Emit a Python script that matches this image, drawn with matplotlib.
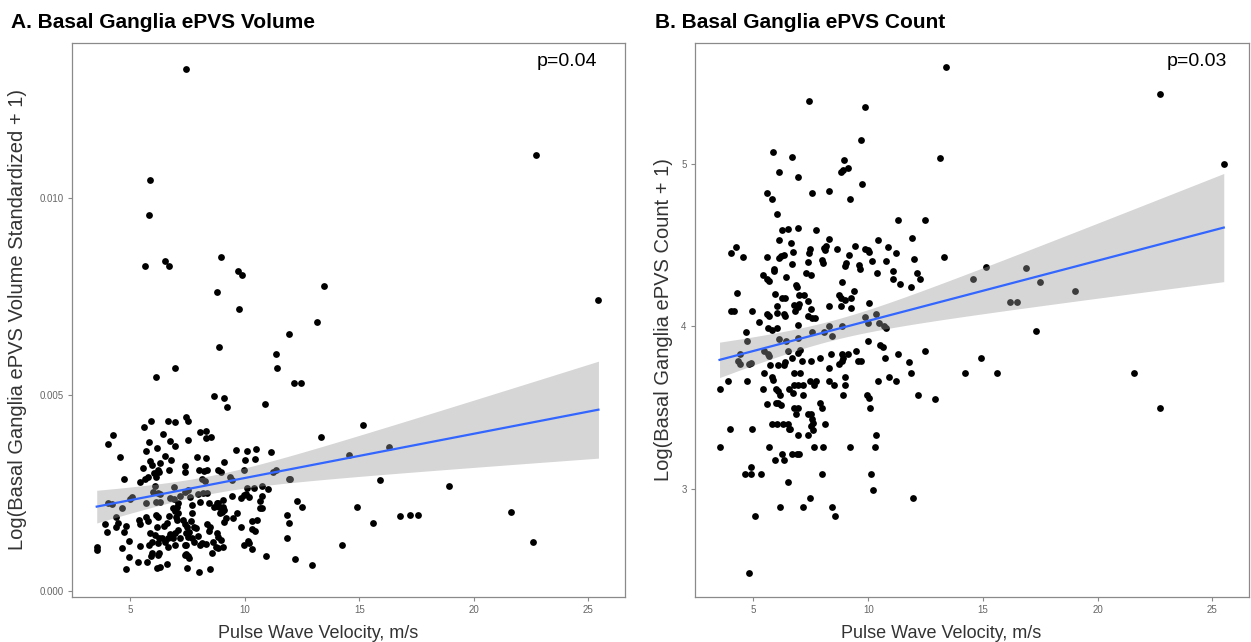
import matplotlib
matplotlib.use('Agg')
import matplotlib.pyplot as plt
import numpy as np

plt.rcParams['font.family'] = ['Liberation Sans', 'DejaVu Sans']

# pulse wave velocity vs basal ganglia ePVS volume (log, standardized)
pwv_vol = [7.42, 5.85, 5.80, 5.63, 6.51, 6.67, 8.97, 9.71, 9.86, 8.78, 13.45, 9.73, 13.14, 11.91, 8.87,
           11.35, 11.40, 6.96, 6.13, 12.14, 12.43, 22.7, 25.44,
           14.55, 15.15, 16.3, 14.9, 14.25, 15.6, 15.9, 16.77, 17.2, 17.55, 18.9, 21.6, 22.6,
           8.65, 9.10, 9.20, 10.90, 13.32, 4.26, 4.04, 4.55, 5.60, 5.90, 6.63, 6.95, 7.43, 7.53, 6.41,
           5.80, 6.73, 6.96, 7.52, 8.05, 8.29, 8.30, 8.50, 6.16, 5.68, 6.51, 6.76, 5.86, 5.95, 6.30,
           5.54, 6.22, 6.27, 6.69, 5.65, 5.76, 6.05, 6.13, 5.44, 7.37, 7.39, 7.91, 8.29, 7.98, 8.23,
           8.34, 8.14, 8.24, 8.81, 8.94, 9.09, 9.33, 9.42, 9.61, 10.02, 9.96, 10.47, 10.10, 10.45,
           11.12, 11.21, 11.34, 11.92, 11.99, 4.70, 5.07, 4.99, 4.04, 4.20, 4.62, 5.70, 6.00, 6.19,
           6.09, 6.30, 6.30, 6.12, 6.73, 6.92, 6.92, 7.17, 7.39, 7.52, 7.59, 7.02, 7.09, 6.88, 6.96,
           7.08, 6.98, 7.04, 7.69, 7.69, 7.97, 8.05, 8.45, 8.18, 8.33, 8.77, 8.84, 9.03, 8.87, 9.04,
           8.65, 8.93, 9.01, 9.44, 9.83, 9.94, 10.03, 10.16, 10.10, 10.41, 10.73, 11.03, 10.73, 10.66,
           10.76, 10.64, 9.67, 9.49, 9.16, 9.10, 11.82, 11.93, 11.86, 12.27, 12.49, 12.18, 12.94,
           3.88, 4.00, 3.53, 3.53, 4.36, 4.45, 4.35, 4.80, 4.74, 4.94, 4.62, 4.93, 4.80, 5.35, 5.74,
           5.41, 5.38, 5.42, 5.70, 5.77, 5.86, 6.06, 5.82, 5.95, 5.89, 5.95, 6.11, 6.21, 6.15, 6.27,
           6.37, 6.21, 6.27, 6.21, 6.18, 6.30, 6.59, 6.50, 6.66, 6.66, 6.75, 6.48, 6.60, 6.70, 6.85,
           6.93, 6.93, 7.07, 7.18, 7.37, 7.43, 7.31, 7.37, 7.49, 7.41, 7.50, 7.56, 7.63, 7.78, 7.88,
           7.43, 7.52, 7.56, 7.39, 7.49, 7.98, 8.46, 7.70, 7.78, 7.97, 8.05, 8.32, 8.11, 8.42, 8.36,
           8.46, 8.58, 8.59, 8.77, 8.84, 8.96, 8.74, 8.82, 9.06, 9.07, 9.84, 10.32, 10.45, 10.29,
           10.51, 10.12, 10.16, 9.96, 10.31, 10.93]
vol = [0.01329, 0.01047, 0.00956, 0.00828, 0.00839, 0.00827, 0.00850, 0.00815, 0.00804, 0.00762,
       0.00777, 0.00719, 0.00685, 0.00655, 0.00622, 0.00603, 0.00568, 0.00568, 0.00544, 0.00530,
       0.00530, 0.01110, 0.00740,
       0.00348, 0.00423, 0.00367, 0.00215, 0.00119, 0.00174, 0.00283, 0.00192, 0.00194, 0.00194,
       0.00268, 0.00202, 0.00126,
       0.00498, 0.00492, 0.00469, 0.00476, 0.00392, 0.00397, 0.00375, 0.00343, 0.00417, 0.00434,
       0.00434, 0.00431, 0.00443, 0.00433, 0.00400, 0.00381, 0.00383, 0.00370, 0.00386, 0.00406,
       0.00409, 0.00391, 0.00393, 0.00364, 0.00356, 0.00344, 0.00335, 0.00332, 0.00322, 0.00326,
       0.00313, 0.00310, 0.00303, 0.00310, 0.00287, 0.00292, 0.00300, 0.00290, 0.00278, 0.00320,
       0.00303, 0.00343, 0.00339, 0.00309, 0.00307, 0.00310, 0.00287, 0.00282, 0.00308, 0.00304,
       0.00328, 0.00290, 0.00284, 0.00359, 0.00333, 0.00310, 0.00361, 0.00358, 0.00336, 0.00355,
       0.00304, 0.00310, 0.00285, 0.00285, 0.00286, 0.00241, 0.00234, 0.00224, 0.00222, 0.00211,
       0.00224, 0.00252, 0.00250, 0.00268, 0.00249, 0.00228, 0.00228, 0.00237, 0.00235, 0.00265,
       0.00242, 0.00254, 0.00258, 0.00240, 0.00216, 0.00225, 0.00211, 0.00204, 0.00199, 0.00190,
       0.00182, 0.00221, 0.00199, 0.00247, 0.00227, 0.00226, 0.00250, 0.00250, 0.00224, 0.00226,
       0.00232, 0.00215, 0.00216, 0.00214, 0.00199, 0.00201, 0.00243, 0.00237, 0.00245, 0.00248,
       0.00239, 0.00264, 0.00262, 0.00268, 0.00261, 0.00243, 0.00231, 0.00212, 0.00211, 0.00200,
       0.00187, 0.00188, 0.00207, 0.00194, 0.00175, 0.00137, 0.00230, 0.00214, 0.00083, 0.00067,
       0.00172, 0.00150, 0.00112, 0.00105, 0.00190, 0.00173, 0.00165, 0.00167, 0.00152, 0.00129,
       0.00110, 0.00087, 0.00058, 0.00075, 0.00074, 0.00116, 0.00182, 0.00171, 0.00190, 0.00180,
       0.00148, 0.00143, 0.00118, 0.00126, 0.00090, 0.00097, 0.00194, 0.00190, 0.00165, 0.00137,
       0.00135, 0.00122, 0.00097, 0.00093, 0.00059, 0.00063, 0.00069, 0.00127, 0.00114, 0.00136,
       0.00147, 0.00167, 0.00175, 0.00191, 0.00135, 0.00118, 0.00148, 0.00156, 0.00136, 0.00119,
       0.00119, 0.00182, 0.00171, 0.00165, 0.00148, 0.00139, 0.00152, 0.00180, 0.00165, 0.00161,
       0.00096, 0.00090, 0.00084, 0.00093, 0.00060, 0.00049, 0.00056, 0.00137, 0.00126, 0.00140,
       0.00118, 0.00120, 0.00122, 0.00155, 0.00171, 0.00165, 0.00097, 0.00125, 0.00149, 0.00139,
       0.00132, 0.00113, 0.00110, 0.00112, 0.00177, 0.00164, 0.00158, 0.00153, 0.00180, 0.00182,
       0.00129, 0.00122, 0.00117, 0.00107, 0.00090]

# pulse wave velocity vs basal ganglia ePVS count (log)
pwv_cnt = [13.40, 7.42, 9.85, 9.69, 5.84, 6.66, 13.13, 8.94, 9.10, 8.81, 8.88, 6.11, 6.95, 9.71, 5.59,
           5.81, 7.55, 8.29, 9.20, 6.01, 11.31, 12.46, 6.26, 6.49, 6.92, 7.73, 8.29, 8.17, 8.07, 8.11,
           6.13, 6.62, 11.89, 4.01, 4.24, 4.53, 5.59, 6.11, 6.20, 6.31, 6.73, 7.40, 7.46, 7.36, 7.98,
           8.04, 8.65, 9.02, 9.15, 8.98, 9.44, 9.62, 9.66, 9.85, 9.98, 10.02, 10.16, 10.43, 10.88,
           10.79, 11.23, 11.98, 10.39, 11.10, 11.07, 11.37, 11.88, 12.13, 12.24, 13.31, 15.14, 14.57,
           5.40, 5.58, 5.66, 5.88, 5.91, 6.40, 6.85, 6.88, 6.66, 7.30, 7.50, 8.84, 5.95, 6.26, 6.39,
           6.97, 7.18, 7.36, 8.71, 8.82, 9.01, 9.24, 9.36, 4.27, 4.02, 4.17, 4.95, 5.58, 5.66, 6.02,
           6.02, 6.34, 6.39, 6.78, 6.81, 6.92, 6.97, 7.36, 7.50, 7.53, 7.68, 8.27, 8.81, 9.26, 10.05,
           5.26, 5.65, 5.81, 6.02, 6.94, 7.57, 8.07, 8.27, 8.42, 8.85, 9.84, 10.01, 10.33, 10.47,
           10.71, 10.79, 4.66,
           3.52, 3.53, 3.88, 3.99, 4.39, 4.39, 4.34, 4.72, 4.82, 4.87, 4.72, 4.94, 4.62, 4.91, 4.91,
           5.33, 5.08, 4.79, 5.40, 5.44, 5.59, 5.44, 5.62, 5.66, 5.72, 5.81, 5.86, 5.97, 6.08, 6.17,
           5.98, 6.08, 6.20, 5.81, 6.01, 6.27, 5.69, 5.94, 6.31, 6.23, 6.52, 6.15, 6.08, 6.36, 6.31,
           6.10, 6.43, 6.52, 6.56, 6.71, 6.75, 7.02, 6.78, 6.92, 7.17, 6.75, 6.95, 6.85, 6.49, 6.60,
           6.53, 6.68, 6.88, 7.00, 6.92, 6.69, 6.94, 7.04, 7.11, 6.95, 7.17, 7.16, 7.47, 7.36, 7.52,
           7.55, 7.58, 7.52, 7.58, 7.39, 7.46, 7.72, 7.62, 7.50, 7.63, 7.91, 7.98, 8.10, 8.05, 7.98,
           8.44, 8.55, 7.91, 8.29, 8.52, 8.30, 8.40, 8.71, 8.84, 8.87, 8.92, 8.97, 9.01, 8.92, 9.11,
           9.21, 9.46, 9.56, 9.68, 9.94, 10.02, 10.08, 9.97, 10.33, 10.30, 10.11, 10.23, 10.44, 10.72,
           10.52, 10.66, 10.92, 11.20, 11.30, 11.78, 11.88, 12.17, 12.49, 12.92, 11.94, 14.21, 14.91,
           15.62,
           16.2, 16.5, 16.9, 17.5, 17.3, 19.0, 21.6, 22.7, 22.7, 25.5]
cnt = [5.595, 5.39, 5.35, 5.15, 5.076, 5.043, 5.037, 5.022, 4.977, 4.951, 4.963, 4.949, 4.92, 4.875,
       4.821, 4.787, 4.819, 4.836, 4.787, 4.692, 4.653, 4.653, 4.592, 4.602, 4.604, 4.594, 4.54, 4.493,
       4.483, 4.473, 4.532, 4.512, 4.542, 4.454, 4.487, 4.43, 4.43, 4.421, 4.436, 4.442, 4.456, 4.452,
       4.475, 4.395, 4.409, 4.387, 4.475, 4.387, 4.442, 4.374, 4.497, 4.38, 4.354, 4.479, 4.473,
       4.458, 4.405, 4.532, 4.487, 4.405, 4.452, 4.417, 4.329, 4.343, 4.29, 4.259, 4.245, 4.329,
       4.29, 4.43, 4.368, 4.29,
       4.317, 4.29, 4.28, 4.352, 4.34, 4.302, 4.257, 4.245, 4.382, 4.331, 4.317, 4.276, 4.202,
       4.175, 4.175, 4.19, 4.19, 4.157, 4.19, 4.175, 4.163, 4.175, 4.216, 4.204, 4.093, 4.093,
       4.093, 4.077, 4.065, 4.124, 4.083, 4.077, 4.062, 4.13, 4.093, 4.118, 4.14, 4.065, 4.108,
       4.052, 4.052, 4.124, 4.124, 4.11, 4.142, 4.024, 3.99, 3.976, 3.989, 4.007, 3.968, 3.968,
       4.005, 3.943, 4.005, 4.058, 4.021, 4.075, 4.021, 4.001, 3.987, 3.968,
       3.611, 3.256, 3.662, 3.365, 3.827, 3.765, 3.786, 3.909, 3.765, 3.775, 3.662, 3.365, 3.088,
       3.088, 3.133, 3.088, 2.83, 2.481, 3.611, 3.714, 3.523, 3.851, 3.827, 3.816, 3.761, 3.689,
       3.669, 3.615, 3.601, 3.58, 3.525, 3.525, 3.513, 3.40, 3.40, 3.40, 3.256, 3.176, 3.176,
       3.215, 3.041, 2.887, 3.761, 3.779, 3.759, 3.919, 3.909, 3.847, 3.611, 3.591, 3.714, 3.714,
       3.636, 3.636, 3.636, 3.494, 3.494, 3.461, 3.40, 3.367, 3.367, 3.215, 3.215, 3.215, 3.33,
       3.806, 3.837, 3.857, 3.784, 3.929, 3.578, 2.887, 2.94, 3.463, 3.463, 3.431, 3.406, 3.385,
       3.359, 3.328, 3.662, 3.662, 3.636, 3.784, 3.256, 3.525, 3.494, 3.40, 3.256, 3.088, 2.887,
       2.83, 3.804, 3.662, 3.636, 3.744, 3.827, 3.765, 3.827, 3.786, 3.806, 3.636, 3.687, 3.58,
       3.827, 3.256, 3.847, 3.784, 3.784, 3.58, 3.556, 3.494, 3.909, 3.328, 3.256, 3.088, 2.992,
       3.662, 3.806, 3.888, 3.872, 3.687, 3.662, 3.827, 3.779, 3.714, 3.58, 3.847, 3.554, 2.94,
       3.714, 3.804, 3.714,
       4.15, 4.15, 4.36, 4.27, 3.97, 4.22, 3.71, 3.50, 5.43, 5.00]


def lm_band(x, y, n=80):
    # plain OLS + 95% confidence band like geom_smooth(method='lm')
    x = np.asarray(x); y = np.asarray(y)
    b, a = np.polyfit(x, y, 1)
    res = y - (a + b * x)
    s = np.sqrt(np.sum(res ** 2) / (len(x) - 2))
    xs = np.linspace(x.min(), x.max(), n)
    se = s * np.sqrt(1 / len(x) + (xs - x.mean()) ** 2 / np.sum((x - x.mean()) ** 2))
    fit = a + b * xs
    return xs, fit, fit - 1.97 * se, fit + 1.97 * se


fig = plt.figure(figsize=(12.51, 6.42), dpi=100)
axA = fig.add_axes([72 / 1251, 1 - 597 / 642, 553 / 1251, 554 / 642])
axB = fig.add_axes([695 / 1251, 1 - 597 / 642, 554 / 1251, 554 / 642])

panels = [(axA, pwv_vol, vol, 'Log(Basal Ganglia ePVS Volume Standardized + 1)', 'p=0.04', 0.895,
           [0, 0.005, 0.010], ['0.000', '0.005', '0.010'], (-0.00014, 0.01394), -0.082),
          (axB, pwv_cnt, cnt, 'Log(Basal Ganglia ePVS Count + 1)', 'p=0.03', 0.906,
           [3, 4, 5], ['3', '4', '5'], (2.333, 5.745), -0.04)]

for ax, xx, yy, ylab, ptxt, px, yt, ytl, ylim, ylx in panels:
    ax.scatter(xx, yy, s=24, color='black', linewidths=0, zorder=2)
    xs, fit, lo, hi = lm_band(xx, yy)
    ax.fill_between(xs, lo, hi, color='#999999', alpha=0.4, linewidth=0, zorder=3)
    ax.plot(xs, fit, color='#3366FF', lw=1.6, zorder=4)
    ax.set_xlim(2.45, 26.6)
    ax.set_ylim(*ylim)
    ax.set_xticks([5, 10, 15, 20, 25])
    ax.set_yticks(yt)
    ax.set_yticklabels(ytl)
    ax.tick_params(length=3, width=0.8, color='#8a8a8a', labelcolor='#666666', labelsize=7, pad=3)
    for sp in ax.spines.values():
        sp.set_color('#8a8a8a')
        sp.set_linewidth(0.9)
    ax.set_xlabel('Pulse Wave Velocity, m/s', fontsize=13, color='#333333')
    ax.xaxis.set_label_coords(0.445, -0.05)
    ax.set_ylabel(ylab, fontsize=14.5, color='#333333')
    ax.yaxis.set_label_coords(ylx, 0.5)
    ax.text(px, 0.966, ptxt, transform=ax.transAxes, fontsize=14, ha='center', va='center')

fig.text(11 / 1251, 1 - 28 / 642, 'A. Basal Ganglia ePVS Volume', fontsize=15, fontweight='bold')
fig.text(655 / 1251, 1 - 28 / 642, 'B. Basal Ganglia ePVS Count', fontsize=15, fontweight='bold')

fig.savefig('out.png', dpi=100)
